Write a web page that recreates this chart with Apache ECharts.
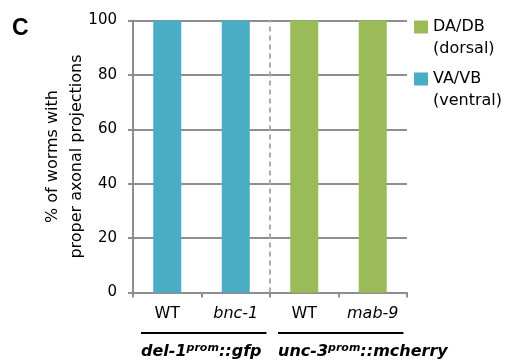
<!DOCTYPE html>
<html><head><meta charset="utf-8">
<script src="https://cdn.jsdelivr.net/npm/echarts@6/dist/echarts.min.js"></script>
<style>html,body{margin:0;padding:0;background:#fff}#c{width:505px;height:362px}</style>
</head><body><div id="c"></div>
<script>
// ---- data ----
const categories = ['WT', 'bnc-1', 'WT', 'mab-9'];
const italicCategory = [false, true, false, true];
const ventralValues = [100, 100, '-', '-'];
const dorsalValues = ['-', '-', 100, 100];
const seriesNames = ['DA/DB (dorsal)', 'VA/VB (ventral)'];
const yTickValues = [0, 20, 40, 60, 80, 100];
const yTitleLines = ['% of worms with', 'proper axonal projections'];
const groupMain = ['del-1', 'unc-3'];
const groupSup = ['prom', 'prom'];
const groupTail = ['::gfp', '::mcherry'];
const groupFrom = [0, 2];
const groupTo = [1, 3];
const dividerX = [2, 2];
const dividerY = [0, 100];
const panelLetter = 'C';

const FONT = 'DejaVu Sans';
const GRID = '#8e8e8e';
const chart = echarts.init(document.getElementById('c'), null, {renderer: 'canvas'});

const option = {
  animation: false,
  backgroundColor: '#fff',
  textStyle: {fontFamily: FONT},
  title: {text: panelLetter, left: 12, top: 17, padding: 0,
    textStyle: {fontFamily: 'Liberation Sans', fontSize: 23, fontWeight: 'bold', color: '#000'}},
  grid: {left: 133, right: 98, top: 20.5, bottom: 69.5, containLabel: false},
  legend: {
    orient: 'vertical', left: 414, top: -6, padding: 0, itemGap: -14,
    itemWidth: 14, itemHeight: 13, icon: 'rect',
    data: seriesNames,
    formatter: n => '\n' + n.replace(' (', '\n('),
    textStyle: {fontFamily: FONT, fontSize: 16, color: '#000', lineHeight: 22}
  },
  xAxis: [{
    type: 'category', data: categories,
    axisLine: {lineStyle: {color: GRID, width: 2}},
    axisTick: {show: true, length: 5, interval: 0, lineStyle: {color: GRID, width: 2}},
    axisLabel: {margin: 13, interval: 0, fontFamily: FONT, fontSize: 16, color: '#000',
      formatter: (v, i) => italicCategory[i] ? '{i|' + v + '}' : v,
      rich: {i: {fontStyle: 'italic', fontFamily: FONT, fontSize: 16, color: '#000'}}},
    splitLine: {show: false}
  }, {
    type: 'value', min: 0, max: 4, show: false
  }],
  yAxis: {
    type: 'value', min: 0, max: 100, interval: 20,
    name: yTitleLines.join('\n'), nameLocation: 'middle', nameGap: 44, nameMoveOverlap: false,
    nameTextStyle: {fontFamily: FONT, fontSize: 16, color: '#000', lineHeight: 24},
    axisLine: {show: true, lineStyle: {color: GRID, width: 2}},
    axisTick: {show: true, length: 5, lineStyle: {color: GRID, width: 2}},
    axisLabel: {margin: 16, fontFamily: FONT, fontSize: 15, color: '#000'},
    splitLine: {show: true, lineStyle: {color: GRID, width: 2}}
  },
  series: [
    {name: seriesNames[1], type: 'bar', stack: 'a', data: ventralValues, barWidth: 28,
      itemStyle: {color: '#4BACC6'}},
    {name: seriesNames[0], type: 'bar', stack: 'a', data: dorsalValues, barWidth: 28,
      itemStyle: {color: '#9BBB59'}},
    {type: 'line', xAxisIndex: 1, data: dividerX.map((x, i) => [x, dividerY[i]]),
      symbol: 'none', silent: true, z: 1,
      lineStyle: {color: '#ababab', width: 2, type: [5, 4]}}
  ]
};
chart.setOption(option);

// group annotations below the axis, positioned from the category axis
const p0 = chart.convertToPixel({xAxisIndex: 0}, 0);
const p1 = chart.convertToPixel({xAxisIndex: 0}, 1);
const bw = p1 - p0;
const graphics = [];
groupMain.forEach((g, k) => {
  const x1 = chart.convertToPixel({xAxisIndex: 0}, groupFrom[k]) - bw / 2 + 8;
  const x2 = chart.convertToPixel({xAxisIndex: 0}, groupTo[k]) + bw / 2 - 3.5;
  graphics.push({type: 'line', shape: {x1: x1, y1: 333, x2: x2, y2: 333},
    style: {stroke: '#000', lineWidth: 2}, silent: true});
  graphics.push({type: 'text', x: x1, y: 352,
    style: {text: '{b|' + g + '}{s|' + groupSup[k] + '}{b|' + groupTail[k] + '}',
      verticalAlign: 'middle', align: 'left',
      rich: {
        b: {fontFamily: FONT, fontSize: 16, fontWeight: 'bold', fontStyle: 'italic', fill: '#000', lineHeight: 18},
        s: {fontFamily: FONT, fontSize: 11, fontWeight: 'bold', fontStyle: 'italic', fill: '#000', lineHeight: 11, verticalAlign: 'top'}
      }}, silent: true});
});
chart.setOption({graphic: graphics});
</script></body></html>
